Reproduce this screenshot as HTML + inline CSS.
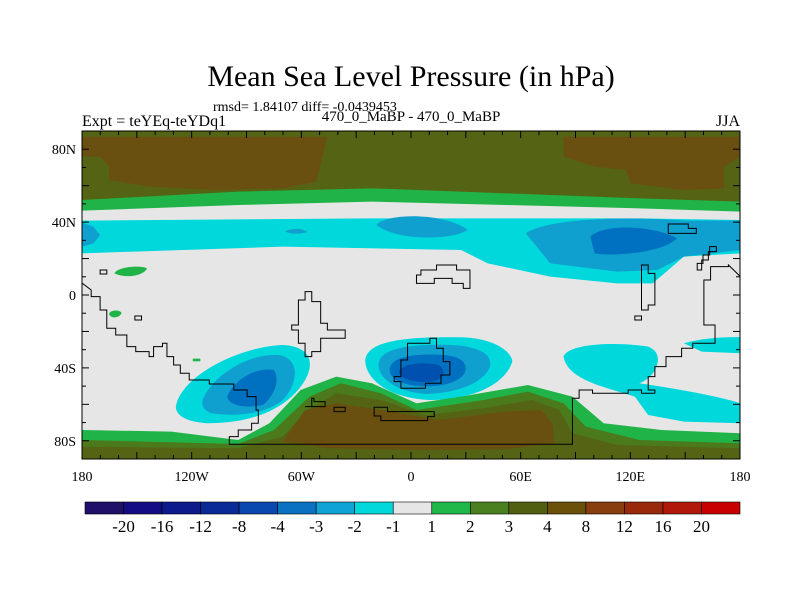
<!DOCTYPE html>
<html><head><meta charset="utf-8"><style>
body{margin:0;background:#fff;width:800px;height:600px;overflow:hidden}
svg{display:block;font-family:"Liberation Serif",serif}
</style></head><body>
<svg width="800" height="600" viewBox="0 0 800 600">
<text x="411" y="86" font-size="30" text-anchor="middle">Mean Sea Level Pressure (in hPa)</text>
<text x="213" y="111" font-size="14">rmsd= 1.84107 diff= -0.0439453</text>
<text x="411" y="121" font-size="15" text-anchor="middle">470_0_MaBP - 470_0_MaBP</text>
<text x="82" y="126" font-size="16">Expt = teYEq-teYDq1</text>
<text x="740" y="126" font-size="16" text-anchor="end">JJA</text>
<defs><clipPath id="pc"><rect x="50" y="122" width="1477" height="986"/></clipPath></defs>
<g transform="translate(60,90) scale(0.4456,0.3333)">
<g clip-path="url(#pc)">
<rect x="50" y="122" width="1477" height="986" fill="#e6e6e6"/>
<!-- north band -->
<path fill="#20b448" d="M50,122H1527V365L1300,355L1000,345L700,335L400,345L50,362Z"/>
<path fill="#546414" d="M50,122H1527V335L1300,325L1000,310L700,295L400,305L50,330Z"/>
<path fill="#6a5010" d="M50,140L600,140L580,250L575,275L500,295L350,300L200,290L110,270L110,230L90,200L50,200Z"/>
<path fill="#6a5010" d="M1130,140L1527,140L1527,200L1490,230L1490,295L1400,300L1280,280L1270,240L1200,230L1130,200Z"/>
<!-- cyan band -->
<path fill="#00d8dc" d="M50,392L400,388L700,385L1000,385L1300,385L1527,390L1527,490L1400,500L1330,580L1250,580L1100,560L960,520L900,480L500,470L50,490Z"/>
<path fill="#10a0d0" d="M50,398L75,410L90,435L75,460L50,470Z"/>
<path fill="#10a0d0" d="M710,405C730,370,860,365,915,420C880,450,760,455,710,405Z"/>
<path fill="#10a0d0" d="M505,424C520,414,545,414,555,426C540,434,515,432,505,424Z"/>
<path fill="#10a0d0" d="M1045,430C1100,380,1300,380,1400,392L1527,392L1527,480L1400,500L1340,540L1250,545L1100,520L1070,470Z"/>
<path fill="#0070c0" d="M1190,440C1220,400,1330,405,1385,445C1350,490,1240,500,1200,490Z"/>
<!-- south blobs -->
<path fill="#00d8dc" d="M260,950C270,860,400,770,500,765C580,770,575,850,520,920C470,980,400,1000,330,1000C280,995,260,975,260,950Z"/>
<path fill="#10a0d0" d="M320,930C340,860,420,790,490,795C540,805,535,880,500,930C460,975,390,980,340,970C320,960,318,945,320,930Z"/>
<path fill="#0070c0" d="M375,920C390,870,440,830,480,840C495,870,480,920,455,945C420,955,380,950,375,920Z"/>
<path fill="#00d8dc" d="M685,810C690,745,800,740,900,742C980,745,1015,790,1015,815C1000,880,930,930,830,930C740,925,685,870,685,810Z"/>
<path fill="#10a0d0" d="M715,820C720,770,800,762,880,765C950,770,970,800,965,830C950,880,890,910,820,912C750,905,712,860,715,820Z"/>
<path fill="#0070c0" d="M740,835C745,795,810,790,860,795C910,800,918,830,905,855C885,885,840,892,800,888C755,880,738,860,740,835Z"/>
<path fill="#0050b0" d="M760,845C770,818,820,815,850,825C870,845,860,870,830,876C790,878,762,865,760,845Z"/>
<path fill="#00d8dc" d="M1130,800C1140,760,1250,755,1320,770C1360,790,1340,860,1300,880C1400,900,1480,920,1527,940L1527,1000L1400,995L1320,975L1290,920C1220,890,1140,870,1130,800Z"/>
<path fill="#00d8dc" d="M1400,760C1440,745,1490,740,1527,742L1527,790L1440,785Z"/>
<!-- south green/brown -->
<path fill="#20b448" d="M50,1020L250,1025L400,1050L470,1000L540,900L620,860L700,880L800,940L900,920L1050,885L1150,920L1220,1000L1350,1020L1527,1030V1108H50Z"/>
<path fill="#4a7a1c" d="M50,1050L400,1062L480,1020L560,920L630,880L720,910L800,960L950,930L1050,905L1130,940L1180,1010L1300,1050L1527,1060V1108H50Z"/>
<path fill="#546414" d="M50,1070L400,1075L500,1040L555,960L620,910L720,930L820,975L950,955L1060,930L1120,960L1150,1030L1250,1065L1527,1075V1108H50Z"/>
<path fill="#6a5010" d="M500,1055L550,960L620,940L720,960L850,990L1000,965L1080,960L1105,1000L1110,1060L1000,1078L800,1080L600,1075Z"/>
<!-- green spots -->
<path fill="#20b448" d="M122,550C130,530,180,525,195,535C190,555,150,568,122,550Z"/>
<path fill="#20b448" d="M110,672C112,660,132,658,138,668C136,684,114,688,110,672Z"/>
<path fill="#20b448" d="M298,806H315V814H298Z"/>
<!-- coastlines -->
<g fill="none" stroke="#000" stroke-width="1" vector-effect="non-scaling-stroke">
<path vector-effect="non-scaling-stroke" d="M50,580L70,600V620H90V660H105V715H125V735H150V770H170V785H200V800H210V770H230V760H240V800H255V825H270V850H290V870H335V882H390V900H420V920H440V960H445V1000H430V1020H400V1040H380V1063H1150V925H1165V900H1195V910H1275V900H1305V910H1335V900H1320V860H1335V830H1360V800H1395V775H1420V760H1470V705H1445V570H1460V530H1500V525L1527,560"/>
<path vector-effect="non-scaling-stroke" d="M550,800H565V785H585V745H640V720H600V700H585V635H565V605H550V630H535V705H520V720H535V760H550Z"/>
<path vector-effect="non-scaling-stroke" d="M800,580H840V565H880V580H905V595H920V540H890V525H845V540H810V555H800Z"/>
<path vector-effect="non-scaling-stroke" d="M765,810H780V760H830V745H845V775H860V815H875V855H855V880H820V895H765V875H750V860H765Z"/>
<path vector-effect="non-scaling-stroke" d="M1365,430V402H1410V415H1428V430Z"/>
<path vector-effect="non-scaling-stroke" d="M1305,525H1320V550H1335V645H1320V660H1305Z"/>
<path vector-effect="non-scaling-stroke" d="M1430,540H1440V510H1455V485H1473V470H1458V495H1443V520H1430Z"/>
<path vector-effect="non-scaling-stroke" d="M550,950H565V925H570V935H595V950Z"/>
<path vector-effect="non-scaling-stroke" d="M615,965H640V952H615Z"/>
<path vector-effect="non-scaling-stroke" d="M705,978H720V992H825V980H840V965H735V952H705Z"/>
<path vector-effect="non-scaling-stroke" d="M90,540H105V552H90Z"/>
<path vector-effect="non-scaling-stroke" d="M168,678H183V690H168Z"/>
<path vector-effect="non-scaling-stroke" d="M1290,678H1305V690H1290Z"/>
</g>
</g>
</g>
<rect x="82" y="131" width="658" height="328" fill="none" stroke="#000" stroke-width="1"/>
<g id="axes" font-size="14"></g>
<g id="cbar"></g>
<script>
const lonTicks=[-180,-120,-60,0,60,120,180];
const lonLabels=["180","120W","60W","0","60E","120E","180"];
const latTicks=[80,40,0,-40,-80];
const latLabels=["80N","40N","0","40S","80S"];
const levels=["-20","-16","-12","-8","-4","-3","-2","-1","1","2","3","4","8","12","16","20"];
const colors=["#20106a","#140c82","#0c1a8c","#0a2a98","#0a48b0","#0a72c0","#10a4d4","#00d8dc","#e6e6e6","#20b848","#4a8020","#506010","#6a5008","#883e0e","#9a280a","#b2180a","#c80000"];
const NS="http://www.w3.org/2000/svg";
const X=l=>82+(l+180)/360*658, Y=l=>295-l/90*164;
const ax=document.getElementById('axes');
function mk(p,tag,a){const e=document.createElementNS(NS,tag);for(const k in a)e.setAttribute(k,a[k]);p.appendChild(e);return e;}
for(let l=-180;l<=180;l+=10){const x=X(l),len=l%30===0?7:4;
 const t1=mk(ax,'line',{x1:x,x2:x,y1:459,y2:459-len,stroke:'#000'});
 
 
 const t2=mk(ax,'line',{x1:x,x2:x,y1:131,y2:131+len,stroke:'#000'});
 
 }
for(let l=-90;l<=90;l+=10){const y=Y(l),len=l%20===0?7:4;
 const t1=mk(ax,'line',{x1:82,x2:82+len,y1:y,y2:y,stroke:'#000'});
 
 
 const t2=mk(ax,'line',{x1:740,x2:740-len,y1:y,y2:y,stroke:'#000'});
 
 }
lonTicks.forEach((l,i)=>{const t=mk(ax,'text',{x:X(l),y:481,'text-anchor':'middle'});t.textContent=lonLabels[i];
 
 });
latTicks.forEach((l,i)=>{const t=mk(ax,'text',{x:76,y:Y(l)+5,'text-anchor':'end'});t.textContent=latLabels[i];
 
 });
const cb=document.getElementById('cbar');const x0=85,x1=740,w=(x1-x0)/colors.length;
colors.forEach((c,i)=>{const r=mk(cb,'rect',{x:x0+i*w,y:502,width:w,height:12,fill:c,stroke:'#000','stroke-width':0.6});
 
 });
levels.forEach((s,i)=>{const t=mk(cb,'text',{x:x0+(i+1)*w,y:532,'text-anchor':'middle','font-size':17});t.textContent=s;
 
 });
</script>
</svg>
</body></html>
